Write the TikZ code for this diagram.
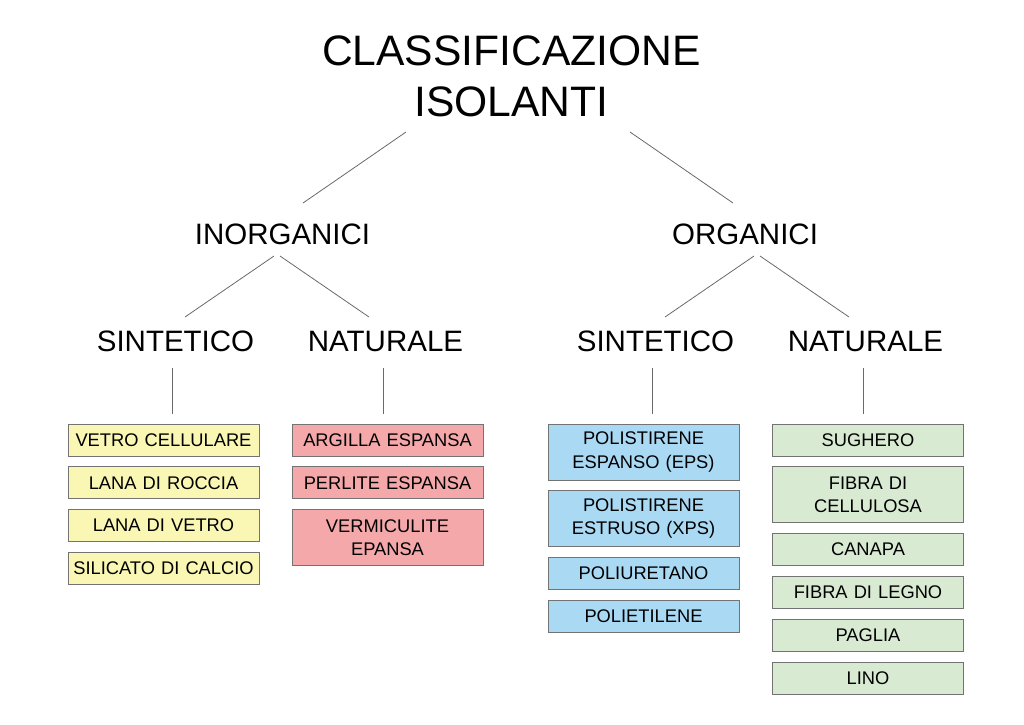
\documentclass[tikz,border=0pt]{standalone}
\usepackage{fontspec}
\setmainfont{Liberation Sans}
\usetikzlibrary{positioning}

\definecolor{giallo}{RGB}{250,246,180}
\definecolor{rosa}{RGB}{245,168,170}
\definecolor{azzurro}{RGB}{170,217,244}
\definecolor{verde}{RGB}{217,234,211}
\definecolor{bordo}{RGB}{115,115,115}
\definecolor{linea}{RGB}{105,105,105}

\tikzset{
    livello/.style={font=\fontsize{29.5}{35}\selectfont, inner sep=0pt},
    voce/.style={draw=bordo, line width=0.9pt, minimum width=191pt, minimum height=32pt,
        text width=187pt, align=center, inner sep=0pt, font=\fontsize{18.3}{23.3}\selectfont},
    doppia/.style={minimum height=56pt},
    ramo/.style={draw=linea, line width=0.8pt}
}

\begin{document}
\begin{tikzpicture}[x=1pt,y=-1pt,node distance=9.9pt]
    \useasboundingbox (0,0) rectangle (1024,724);
    % Titolo
    \node[font=\fontsize{42.6}{51.5}\selectfont, align=center, inner sep=0pt] (titolo) at (511.5,76.5) {CLASSIFICAZIONE\\ISOLANTI};
    % Primo e secondo livello
    \node[livello] (inorg) at (282.5,234) {INORGANICI};
    \node[livello] (org) at (745,234) {ORGANICI};
    \node[livello] (sintL) at (175.5,341.5) {SINTETICO};
    \node[livello] (natL) at (385.5,341.5) {NATURALE};
    \node[livello] (sintR) at (655.5,341.5) {SINTETICO};
    \node[livello] (natR) at (865.5,341.5) {NATURALE};
    % Rami
    \draw[ramo] ([shift={(-105.5,55.5)}]titolo.center) -- ([shift={(20.5,-31)}]inorg.center);
    \draw[ramo] ([shift={(118.5,55.5)}]titolo.center) -- ([shift={(-12,-31)}]org.center);
    \draw[ramo] ([shift={(-8.5,22)}]inorg.center) -- ([shift={(9.5,-24.5)}]sintL.center);
    \draw[ramo] ([shift={(-2.5,22)}]inorg.center) -- ([shift={(-16.5,-24.5)}]natL.center);
    \draw[ramo] ([shift={(9,22)}]org.center) -- ([shift={(9.5,-24.5)}]sintR.center);
    \draw[ramo] ([shift={(15,22)}]org.center) -- ([shift={(-16.5,-24.5)}]natR.center);
    % Inorganici sintetici
    \node[voce, fill=giallo] (vetro) at (163.5,440) {VETRO CELLULARE};
    \node[voce, fill=giallo, below=of vetro] (roccia) {LANA DI ROCCIA};
    \node[voce, fill=giallo, below=of roccia] (lanavetro) {LANA DI VETRO};
    \node[voce, fill=giallo, below=of lanavetro] (silicato) {SILICATO DI CALCIO};
    % Inorganici naturali
    \node[voce, fill=rosa] (argilla) at (387.5,440) {ARGILLA ESPANSA};
    \node[voce, fill=rosa, below=of argilla] (perlite) {PERLITE ESPANSA};
    \node[voce, doppia, fill=rosa, below=of perlite] (vermiculite) {VERMICULITE\\EPANSA};
    % Organici sintetici
    \node[voce, doppia, fill=azzurro] (eps) at (643.5,452) {POLISTIRENE\\ESPANSO (EPS)};
    \node[voce, doppia, fill=azzurro, below=of eps] (xps) {POLISTIRENE\\ESTRUSO (XPS)};
    \node[voce, fill=azzurro, below=of xps] (poliuretano) {POLIURETANO};
    \node[voce, fill=azzurro, below=of poliuretano] (polietilene) {POLIETILENE};
    % Organici naturali
    \node[voce, fill=verde] (sughero) at (868,440) {SUGHERO};
    \node[voce, doppia, fill=verde, below=of sughero] (cellulosa) {FIBRA DI\\CELLULOSA};
    \node[voce, fill=verde, below=of cellulosa] (canapa) {CANAPA};
    \node[voce, fill=verde, below=of canapa] (legno) {FIBRA DI LEGNO};
    \node[voce, fill=verde, below=of legno] (paglia) {PAGLIA};
    \node[voce, fill=verde, below=of paglia] (lino) {LINO};
    % Collegamenti verticali
    \foreach \a/\b/\da/\db in {sintL/vetro/-3.5/8.5, natL/argilla/-2.5/-4.5, sintR/eps/-3.5/8.5, natR/sughero/-2.5/-5}
        \draw[ramo] ([shift={(\da,26.5)}]\a.center) -- ([shift={(\db,-10)}]\b.north);
\end{tikzpicture}
\end{document}
